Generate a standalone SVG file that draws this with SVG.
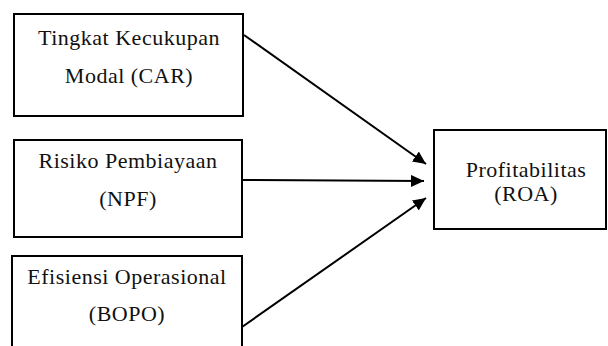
<svg xmlns="http://www.w3.org/2000/svg" width="608" height="346" viewBox="0 0 608 346">
<style>
.box{fill:#fff;stroke:#000;stroke-width:2}
.t{font-family:"Liberation Serif","Times New Roman",serif;font-size:22px;fill:#111;text-anchor:middle;letter-spacing:0.5px}
.c{stroke:#000;stroke-width:2;fill:none}
</style>
<defs>
<marker id="ah" markerUnits="userSpaceOnUse" markerWidth="14" markerHeight="12" refX="13" refY="6" orient="auto">
<path d="M0,0 L13,6 L0,12 Z" fill="#000"/>
</marker>
</defs>
<rect width="608" height="346" fill="#fff"/>
<g id="connectors">
<line class="c" x1="244" y1="35" x2="426" y2="164" marker-end="url(#ah)"/>
<line class="c" x1="243" y1="180" x2="424" y2="181" marker-end="url(#ah)"/>
<line class="c" x1="242" y1="327" x2="426" y2="198" marker-end="url(#ah)"/>
</g>
<g id="car">
<rect class="box" x="14" y="14" width="229" height="102"/>
<text class="t" x="129" y="45">Tingkat Kecukupan</text>
<text class="t" x="129" y="83">Modal (CAR)</text>
</g>
<g id="npf">
<rect class="box" x="14" y="140" width="228" height="97"/>
<text class="t" x="128" y="168">Risiko Pembiayaan</text>
<text class="t" x="128" y="206">(NPF)</text>
</g>
<g id="bopo">
<rect class="box" x="12" y="256" width="230" height="100"/>
<text class="t" x="127" y="284">Efisiensi Operasional</text>
<text class="t" x="127" y="321">(BOPO)</text>
</g>
<g id="roa">
<rect class="box" x="434" y="130" width="172" height="99"/>
<text class="t" x="526" y="177">Profitabilitas</text>
<text class="t" x="526" y="201">(ROA)</text>
</g>
</svg>
